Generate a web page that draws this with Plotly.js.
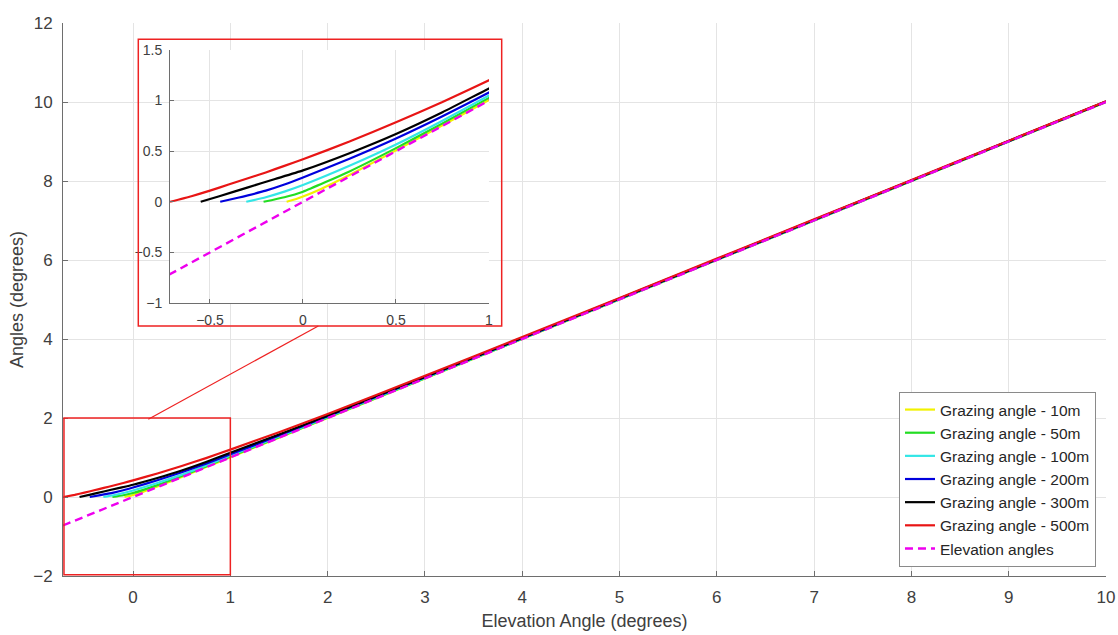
<!DOCTYPE html>
<html><head><meta charset="utf-8">
<script src="https://cdn.plot.ly/plotly-3.0.1.min.js"></script>
<style>html,body{margin:0;padding:0;background:#fff}#chart{width:1118px;height:635px}</style>
</head><body><div id="chart"></div>
<script>
// ---- data ----
const seriesNames = ['Grazing angle - 10m','Grazing angle - 50m','Grazing angle - 100m','Grazing angle - 200m','Grazing angle - 300m','Grazing angle - 500m'];
const seriesColors = ['#f2f200','#22dd22','#33e6e6','#0000dd','#000000','#e81515'];

const x10  = [-0.088,-0.04,0,0.1,0.25,0.5,0.75,1,1.5,2,3,4,5,6,7,8,9,10];
const y10  = [0,0.025,0.052,0.13,0.265,0.508,0.757,1.005,1.503,2.003,3.002,4.001,5.001,6.001,7,8,9,10];
const x50  = [-0.212,-0.1,0,0.25,0.5,0.75,1,1.5,2,3,4,5,6,7,8,9,10];
const y50  = [0,0.045,0.1,0.30,0.53,0.775,1.027,1.515,2.012,3.008,4.006,5.005,6.004,7.003,8.003,9.002,10.002];
const x100 = [-0.305,-0.2,-0.1,0,0.25,0.5,0.75,1,1.5,2,3,4,5,6,7,8,9,10];
const y100 = [0,0.045,0.1,0.165,0.355,0.565,0.80,1.05,1.53,2.025,3.016,4.012,5.01,6.008,7.007,8.006,9.005,10.005];
const x200 = [-0.445,-0.35,-0.2,-0.1,0,0.25,0.5,0.75,1,1.5,2,3,4,5,6,7,8,9,10];
const y200 = [0,0.04,0.11,0.17,0.24,0.425,0.625,0.845,1.08,1.555,2.045,3.03,4.022,5.018,6.015,7.013,8.011,9.01,10.009];
const x300 = [-0.55,-0.45,-0.3,-0.15,0,0.25,0.5,0.75,1,1.5,2,3,4,5,6,7,8,9,10];
const y300 = [0,0.055,0.14,0.225,0.31,0.48,0.67,0.885,1.12,1.58,2.06,3.04,4.03,5.025,6.02,7.018,8.015,9.013,10.012];
const x500 = [-0.715,-0.6,-0.5,-0.4,-0.3,-0.2,-0.1,0,0.25,0.5,0.75,1,1.5,2,3,4,5,6,7,8,9,10];
const y500 = [0,0.055,0.11,0.17,0.23,0.29,0.355,0.42,0.595,0.785,0.985,1.2,1.64,2.1,3.07,4.05,5.04,6.035,7.03,8.025,9.02,10.02];
const xElev = [-0.72,10];
const yElev = [-0.72,10];

const seriesX = [x10,x50,x100,x200,x300,x500];
const seriesY = [y10,y50,y100,y200,y300,y500];

const mainXTicks = [0,1,2,3,4,5,6,7,8,9,10];
const mainYTicks = [-2,0,2,4,6,8,10,12];
const insetXTicks = [-0.5,0,0.5,1];
const insetYTicks = [-1,-0.5,0,0.5,1,1.5];

// ---- traces ----
const traces = [];
seriesNames.forEach((n,i)=>{
  traces.push({x:seriesX[i],y:seriesY[i],name:n,type:'scatter',mode:'lines',
    line:{color:seriesColors[i],width:2.2,shape:'spline',smoothing:0.5},xaxis:'x',yaxis:'y'});
});
traces.push({x:xElev,y:yElev,name:'Elevation angles',type:'scatter',mode:'lines',
  line:{color:'#ee00ee',width:2.4,dash:'8px,5px'},xaxis:'x',yaxis:'y'});
seriesNames.forEach((n,i)=>{
  traces.push({x:seriesX[i],y:seriesY[i],name:n,type:'scatter',mode:'lines',showlegend:false,
    line:{color:seriesColors[i],width:2.2,shape:'spline',smoothing:0.5},xaxis:'x2',yaxis:'y2'});
});
traces.push({x:xElev,y:yElev,name:'Elevation angles',type:'scatter',mode:'lines',showlegend:false,
  line:{color:'#ee00ee',width:2.4,dash:'8px,5px'},xaxis:'x2',yaxis:'y2'});

const axCol = '#6e6e6e', gridCol = '#e4e4e4', txtCol = '#404040';
const fontFam = '"Liberation Sans", Arial, Helvetica, sans-serif';

const layout = {
  width:1118, height:635,
  margin:{l:63,r:12,t:23,b:59},
  paper_bgcolor:'#fff', plot_bgcolor:'#fff',
  font:{family:fontFam,color:txtCol,size:17},
  showlegend:true,
  legend:{x:0.9904,y:0.0163,xanchor:'right',yanchor:'bottom',bgcolor:'#fff',
    bordercolor:'#8a8a8a',borderwidth:1,font:{size:15.5,color:'#262626'},tracegroupgap:0},
  xaxis:{range:[-0.72,10],tickvals:mainXTicks,ticks:'inside',ticklen:5,tickcolor:axCol,
    showline:true,linecolor:axCol,linewidth:1,showgrid:true,gridcolor:gridCol,zeroline:false,
    tickfont:{size:17,color:txtCol},ticklabelstandoff:6,
    title:{text:'Elevation Angle (degrees)',font:{size:18,color:txtCol},standoff:7}},
  yaxis:{range:[-2,12],tickvals:mainYTicks,ticks:'inside',ticklen:5,tickcolor:axCol,
    showline:true,linecolor:axCol,linewidth:1,showgrid:true,gridcolor:gridCol,zeroline:false,
    tickfont:{size:17,color:txtCol},ticklabelstandoff:6,
    title:{text:'Angles (degrees)',font:{size:18,color:txtCol},standoff:4}},
  xaxis2:{domain:[0.1026,0.4084],anchor:'y2',range:[-0.715,1],tickvals:insetXTicks,
    ticks:'inside',ticklen:4,tickcolor:axCol,showline:true,linecolor:axCol,linewidth:1,
    showgrid:true,gridcolor:gridCol,zeroline:false,tickfont:{size:14,color:txtCol},ticklabelstandoff:4},
  yaxis2:{domain:[0.4937,0.9512],anchor:'x2',range:[-1,1.5],tickvals:insetYTicks,
    ticks:'inside',ticklen:4,tickcolor:axCol,showline:true,linecolor:axCol,linewidth:1,
    showgrid:true,gridcolor:gridCol,zeroline:false,tickfont:{size:14,color:txtCol},ticklabelstandoff:4},
  shapes:[
    {type:'rect',xref:'x',yref:'y',x0:-0.71,x1:1,y0:-1.97,y1:2,line:{color:'#ee2222',width:1.5}},
    {type:'rect',xref:'paper',yref:'paper',x0:0.0722,x1:0.4206,y0:0.4521,y1:0.9705,line:{color:'#ee2222',width:1.5}},
    {type:'line',xref:'paper',yref:'paper',x0:0.0818,y0:0.2834,x1:0.2448,y1:0.4521,line:{color:'#ee2222',width:1.2}}
  ]
};

Plotly.newPlot('chart',traces,layout,{displayModeBar:false,staticPlot:true});
</script></body></html>
